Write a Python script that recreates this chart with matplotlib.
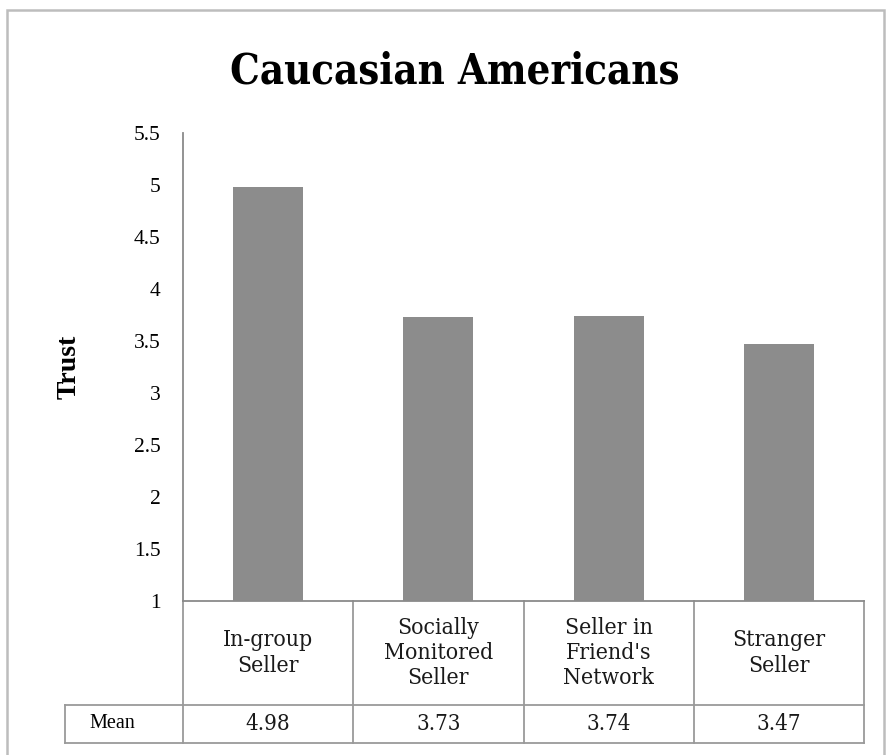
import matplotlib
matplotlib.use("Agg")
import matplotlib.pyplot as plt
from matplotlib.patches import Rectangle
from matplotlib.lines import Line2D
import matplotlib.transforms as mtransforms

# Données
categories = ["In-group\nSeller", "Socially\nMonitored\nSeller", "Seller in\nFriend's\nNetwork", "Stranger\nSeller"]
means = [4.98, 3.73, 3.74, 3.47]
mean_labels = ["4.98", "3.73", "3.74", "3.47"]
yticks = [1, 1.5, 2, 2.5, 3, 3.5, 4, 4.5, 5, 5.5]
ytick_labels = ["1", "1.5", "2", "2.5", "3", "3.5", "4", "4.5", "5", "5.5"]

W, H = 888, 755
fig = plt.figure(figsize=(W / 100, H / 100), dpi=100)

# cadre extérieur gris
fig.add_artist(Rectangle((7 / W, -0.05), (884 - 7) / W, 1.05 - 10 / H,
                         transform=fig.transFigure, fill=False,
                         edgecolor="#bdbdbd", linewidth=1.8))

left, right, top, bottom = 183, 864, 133, 601
ax = fig.add_axes([left / W, 1 - bottom / H, (right - left) / W, (bottom - top) / H])

x = list(range(len(categories)))
ax.bar(x, means, width=0.41, bottom=0, color="#8c8c8c", zorder=2)
ax.set_xlim(-0.5, len(categories) - 0.5)
ax.set_ylim(1, 5.5)

ax.set_yticks(yticks)
ax.set_yticklabels(ytick_labels, fontfamily="Liberation Serif", fontsize=15.5)
ax.tick_params(axis="y", length=0, pad=16)
ax.set_xticks([])

for s in ["top", "right"]:
    ax.spines[s].set_visible(False)
for s in ["left", "bottom"]:
    ax.spines[s].set_color("#8a8a8a")
    ax.spines[s].set_linewidth(1.3)

ax.set_ylabel("Trust", fontfamily="Liberation Serif", fontweight="bold",
              fontsize=20, labelpad=38)

fig.text(455 / W, 1 - 72 / H, "Caucasian Americans", ha="center", va="center",
         fontfamily="DejaVu Serif", fontstretch="condensed", fontweight="bold",
         fontsize=30)

# tableau sous l'axe
px = 1 / (bottom - top)
row1 = -(705 - bottom) * px
row2 = -(743 - bottom) * px
mean_left = (65 - left) / (right - left)
lc = "#9a9a9a"
lw = 1.3
trans = ax.transAxes
lines = [
    ([0, 0], [0, row2]),
    ([1, 1], [0, row2]),
    ([mean_left, 1], [row1, row1]),
    ([mean_left, 1], [row2, row2]),
    ([mean_left, mean_left], [row1, row2]),
]
for i in range(1, len(categories)):
    xf = i / len(categories)
    lines.append(([xf, xf], [0, row2]))
for xs, ys in lines:
    ax.add_line(Line2D(xs, ys, transform=trans, color=lc, linewidth=lw, clip_on=False))

btrans = mtransforms.blended_transform_factory(ax.transData, ax.transAxes)
for xi, cat, ml in zip(x, categories, mean_labels):
    ax.text(xi, row1 / 2, cat, transform=btrans, ha="center", va="center",
            fontfamily="DejaVu Serif", fontstretch="condensed", fontsize=16.5,
            linespacing=1.2, color="#1a1a1a")
    ax.text(xi, (row1 + row2) / 2, ml, transform=btrans, ha="center", va="center",
            fontfamily="DejaVu Serif", fontstretch="condensed", fontsize=16,
            color="#1a1a1a")
ax.text((112 - left) / (right - left), (row1 + row2) / 2, "Mean", transform=trans,
        ha="center", va="center", fontfamily="Liberation Serif", fontsize=14.5)

fig.savefig("out.png", dpi=100)
